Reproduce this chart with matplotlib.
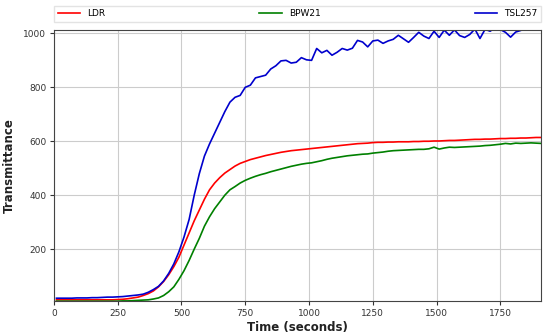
import matplotlib.pyplot as plt
import numpy as np

# time axis (seconds), one sample every 20 s
time_s = np.arange(10, 1911, 20)

ldr = [12, 12, 12, 12, 12, 12, 12, 12, 12, 12, 12, 12, 13, 14, 16, 19, 22, 28, 35, 45,
       60, 80, 105, 135, 170, 215, 260, 305, 345, 385, 420, 445, 465, 482, 495, 508, 518, 525, 532, 537,
       542, 547, 551, 555, 559, 562, 565, 567, 569, 571, 573, 575, 577, 579, 581, 583, 585, 587, 589, 591,
       592, 593, 595, 596, 596, 597, 597, 598, 598, 598, 599, 599, 600, 600, 601, 601, 602, 603, 603, 604,
       605, 606, 607, 607, 608, 608, 609, 610, 610, 611, 611, 612, 612, 613, 614, 614]

bpw21 = [7, 7, 7, 7, 7, 7, 7, 7, 7, 7, 7, 7, 7, 8, 8, 9, 10, 11, 12, 15,
         19, 28, 42, 60, 88, 120, 158, 200, 240, 285, 320, 350, 375, 400, 420, 432, 445, 455, 463, 470,
         476, 481, 487, 492, 497, 502, 507, 511, 515, 518, 520, 524, 528, 533, 537, 540, 543, 546, 548, 550,
         552, 553, 556, 558, 560, 563, 565, 566, 567, 568, 569, 570, 570, 572, 578, 571, 575, 578, 577, 578,
         579, 580, 581, 582, 584, 585, 587, 589, 592, 590, 593, 592, 593, 594, 593, 592]

tsl257 = [18, 18, 18, 18, 19, 19, 19, 20, 20, 21, 22, 22, 23, 24, 26, 28, 30, 33, 40, 50,
          62, 82, 110, 145, 190, 245, 310, 400, 480, 545, 590, 630, 670, 710, 745, 763, 770, 800, 808, 835,
          840, 845, 868, 880, 898, 900, 890, 893, 910, 902, 900, 944, 928, 937, 919, 930, 944, 938, 945, 974,
          968, 950, 972, 975, 963, 972, 978, 993, 980, 967, 985, 1004, 990, 981, 1008, 985, 1012, 993, 1013, 992,
          985, 996, 1016, 981, 1015, 1008, 1022, 1014, 1004, 986, 1005, 1011, 1022, 1016, 1020, 1024]

fig = plt.figure(figsize=(5.5, 3.35), dpi=100)
ax = fig.add_axes([0.098, 0.101, 0.886, 0.809])

ax.plot(time_s, ldr, color='red', lw=1.2, label='LDR')
ax.plot(time_s, bpw21, color='green', lw=1.2, label='BPW21')
ax.plot(time_s, tsl257, color='mediumblue', lw=1.2, label='TSL257')

ax.set_xlim(0, 1910)
ax.set_ylim(7, 1012)
ax.set_xticks([0, 250, 500, 750, 1000, 1250, 1500, 1750])
ax.set_yticks([200, 400, 600, 800, 1000])
ax.grid(True, color='#cccccc', lw=0.8)
ax.tick_params(labelsize=6.5, colors='#333333', length=3, pad=2.5)
for sp in ax.spines.values():
    sp.set_color('#444444')

ax.set_xlabel('Time (seconds)', fontsize=8.5, fontweight='bold', color='#222222', labelpad=2)
ax.set_ylabel('Transmittance', fontsize=8.5, fontweight='bold', color='#222222', labelpad=5)

ax.legend(loc='lower left', bbox_to_anchor=(0, 1.03, 1, 0.1), ncol=3, mode='expand',
          borderaxespad=0, fontsize=6.5, frameon=True, edgecolor='#dddddd', fancybox=False,
          handlelength=2.5)

fig.savefig('out.png', dpi=100)
